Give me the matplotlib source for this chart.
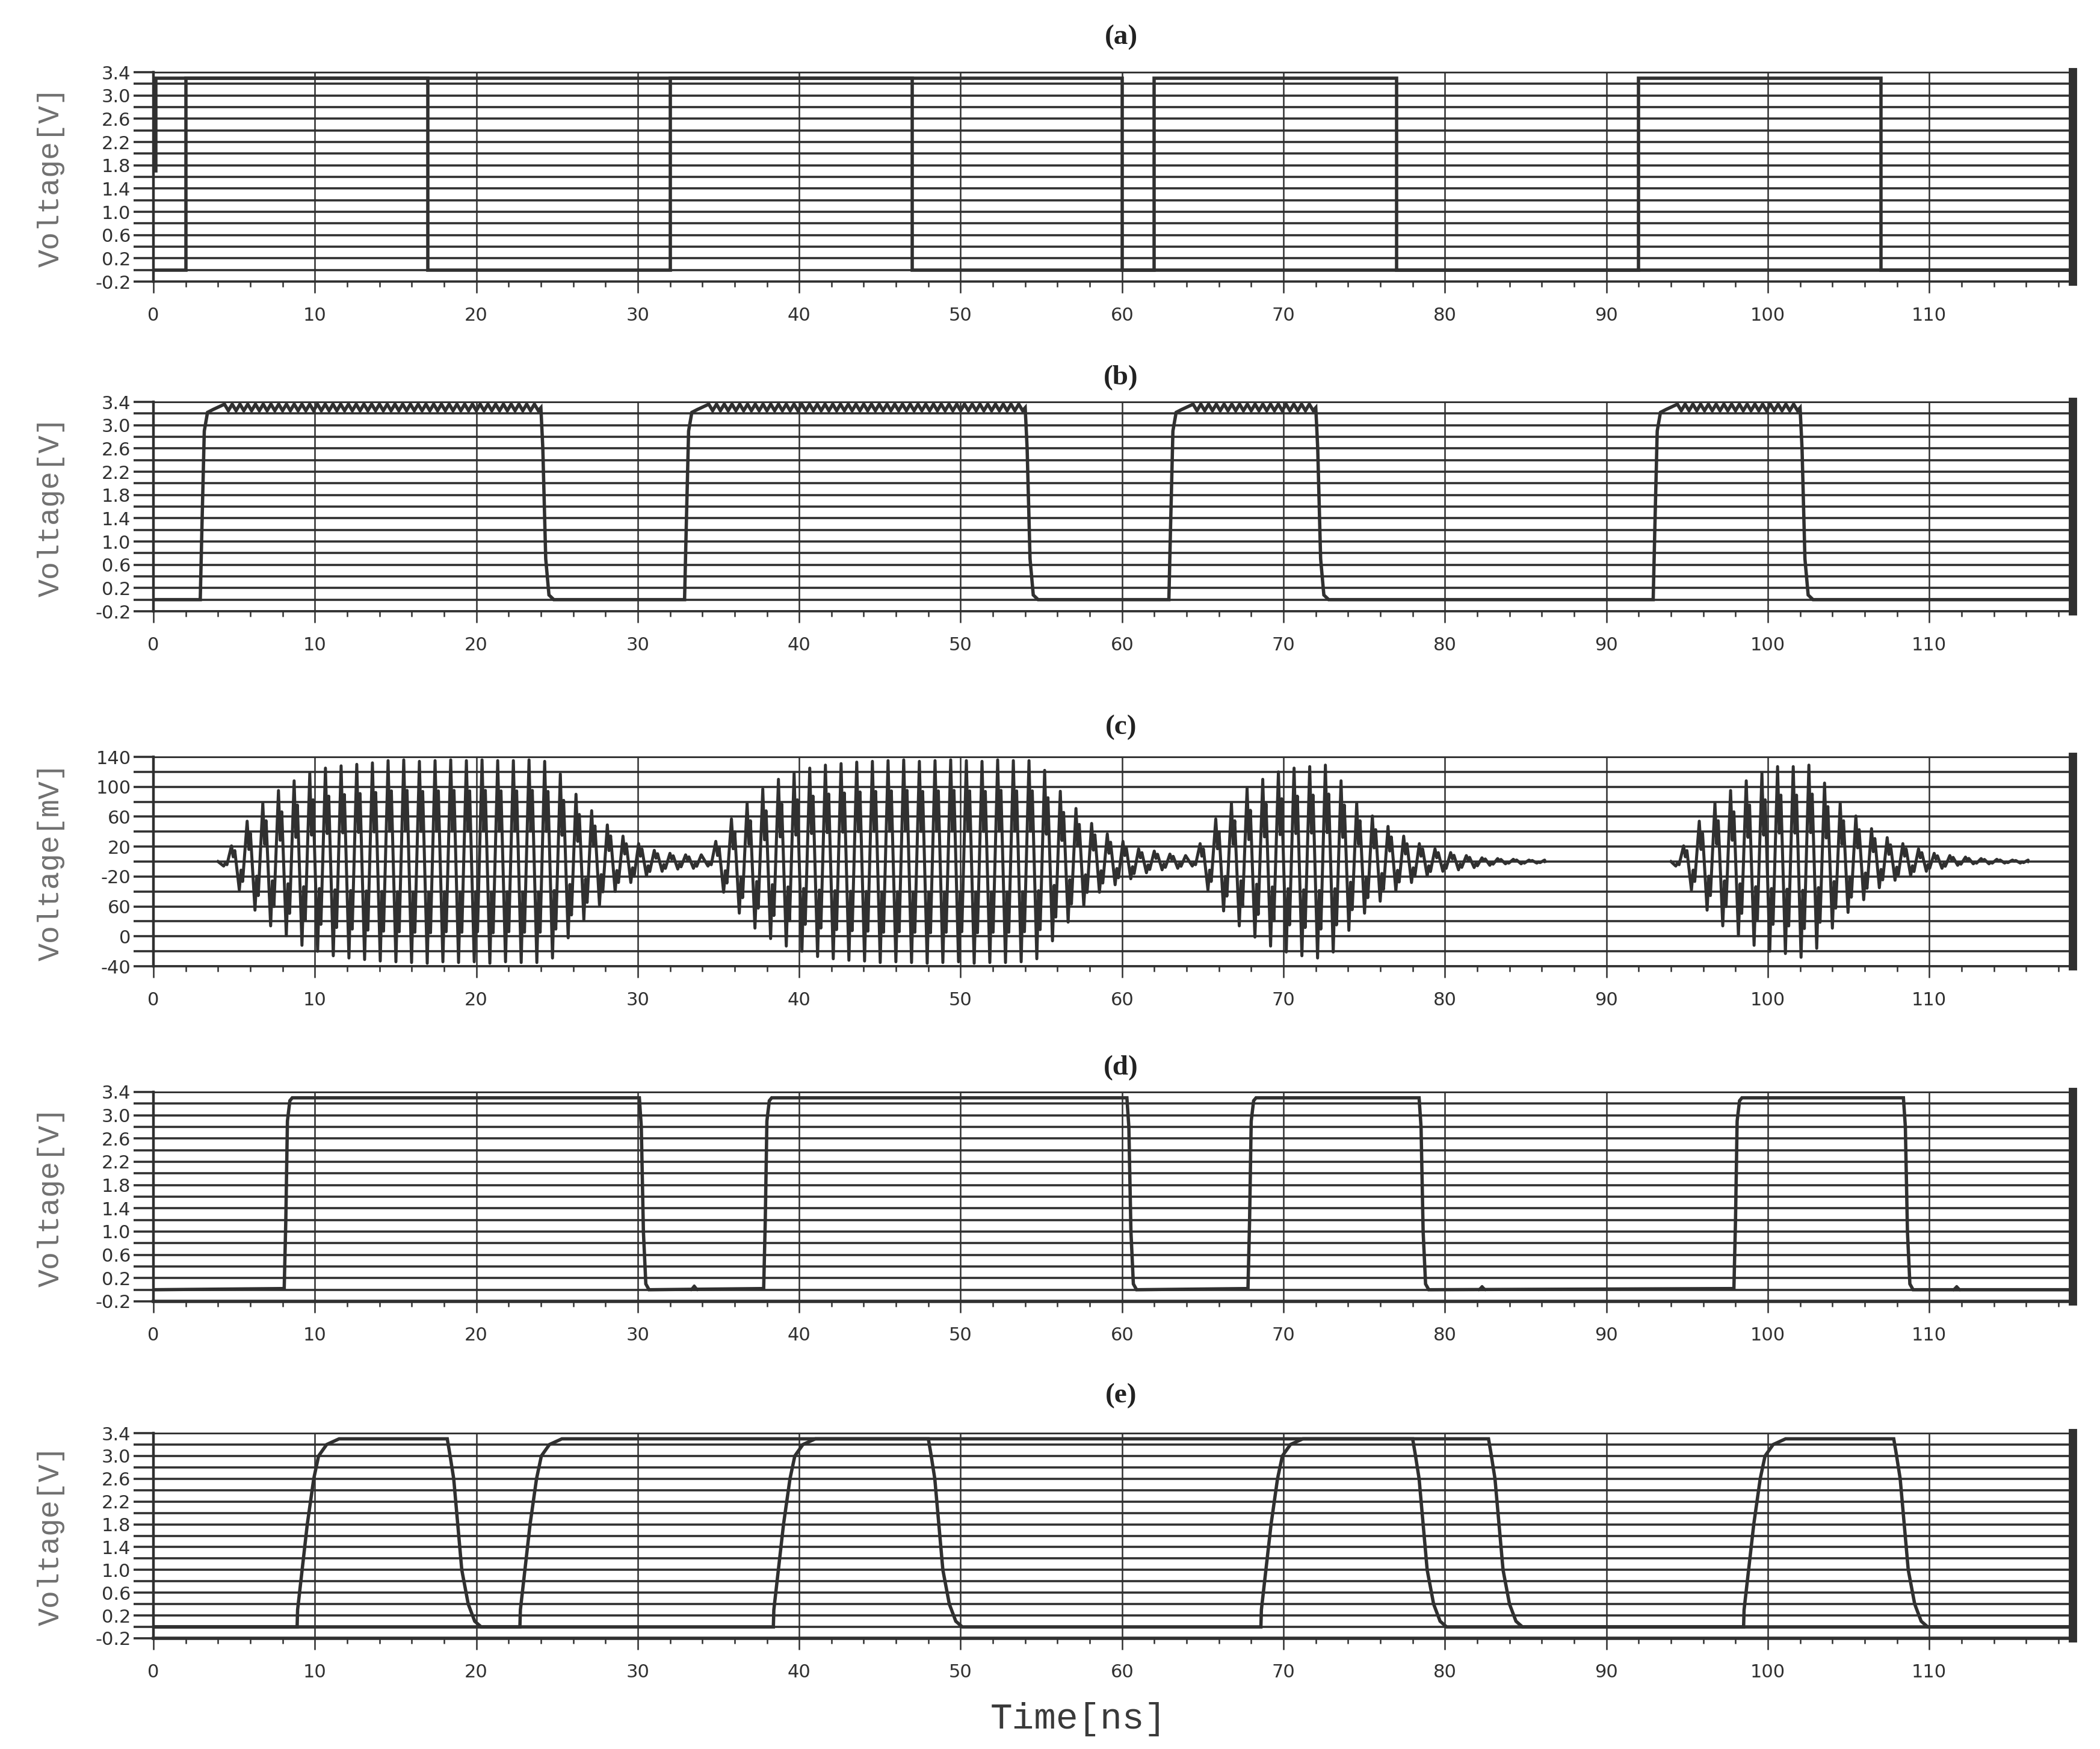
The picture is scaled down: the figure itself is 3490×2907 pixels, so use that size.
import numpy as np
import matplotlib
matplotlib.use('Agg')
import matplotlib.pyplot as plt
from matplotlib.ticker import MultipleLocator

INK = '#303030'

# ---------------- values (time in ns) ----------------
time_ticks = [0, 10, 20, 30, 40, 50, 60, 70, 80, 90, 100, 110]
t_end = 118.9

volt_major = [3.4, 3.0, 2.6, 2.2, 1.8, 1.4, 1.0, 0.6, 0.2, -0.2]
volt_minor = [3.2, 2.8, 2.4, 2.0, 1.6, 1.2, 0.8, 0.4, 0.0]
volt_labels = ['3.4', '3.0', '2.6', '2.2', '1.8', '1.4', '1.0', '0.6', '0.2', '-0.2']

mv_major = [140, 100, 60, 20, -20, -60, -100, -140]
mv_minor = [120, 80, 40, 0, -40, -80, -120]
mv_labels = ['140', '100', '60', '20', '-20', '60', '0', '-40']  # as printed

v_high = 3.3
v_low = 0.0

# (a) clock and data (ideal edges)
clk_edges = [2, 17, 32, 47, 62, 77, 92, 107]
data_v0 = 1.7
data_fall = 60

# (b) modulator enable pulses
b_rise = [2.9, 32.9, 62.9, 92.9]
b_fall = [24.0, 54.0, 72.0, 102.0]
b_rise_dt = [0.0, 0.1, 0.25, 0.45, 0.8]
b_rise_v = [0.0, 1.2, 2.9, 3.22, 3.27]
b_fall_dt = [0.0, 0.12, 0.3, 0.5, 0.8]
b_fall_v = [3.3, 2.6, 0.7, 0.08, 0.0]
b_ripple = [3.36, 3.25]
b_ripple_delay = 1.5
b_ripple_step = 0.24

# (c) OOK output: successive peak / trough values (mV), one every half period
c_half = 0.485
c_trace_a = (4.0, 86.2)
c_trace_b = (94.0, 116.1)
burst_start = [4.35, 34.35, 64.35, 94.3]
burst1 = [-6, 21, -38, 54, -65, 78, -86, 95, -99, 108, -112, 118, -120, 125, -126, 128, -129, 130, -131, 132, -133,
          135, -134, 136, -135, 134, -136, 135, -134, 136, -135, 135, -134, 136, -136, 135, -134, 135, -135, 136, -135, 134,
          -129, 117, -102, 90, -78, 68, -58, 49, -40, 34, -28, 24, -19, 15, -13, 11, -10, 9, -9, 9]
burst2 = [-6, 27, -41, 57, -69, 78, -89, 97, -103, 110, -113, 118, -120, 125, -127, 129, -130, 131, -132, 133, -133,
          134, -135, 135, -134, 136, -135, 134, -136, 135, -135, 136, -134, 135, -136, 134, -135, 136, -135, 135, -134, 135,
          -130, 122, -106, 94, -81, 71, -59, 51, -41, 37, -31, 27, -23, 17, -15, 14, -11, 10, -9, 8]
burst3 = [-6, 24, -38, 57, -66, 78, -86, 98, -101, 110, -113, 120, -121, 125, -126, 127, -129, 129,
          -121, 108, -92, 78, -69, 61, -53, 47, -39, 34, -28, 24, -19, 17, -13, 12, -11, 8, -8, 5, -5, 4,
          -3, 3, -3, 2, -2, 2]
burst4 = [-6, 21, -38, 54, -65, 78, -86, 95, -99, 108, -112, 118, -120, 127, -123, 127, -128, 129,
          -116, 105, -89, 78, -68, 61, -51, 44, -35, 32, -25, 24, -19, 17, -13, 11, -9, 8, -5, 6, -3, 4,
          -3, 3, -2, 2, -2, 2]
# harmonic kink after every extreme: (fraction of half period, fraction of that extreme)
c_kink = [(0.22, 0.3), (0.42, 0.7)]

# (d) demodulated output
d_rise = [8.1, 37.8, 67.8, 97.9]
d_fall = [30.1, 60.3, 78.4, 108.4]
d_rise_dt = [0.0, 0.1, 0.2, 0.35, 0.5]
d_rise_v = [0.02, 1.2, 2.9, 3.25, 3.3]
d_fall_dt = [0.0, 0.12, 0.25, 0.4, 0.6]
d_fall_v = [3.3, 2.8, 1.0, 0.1, 0.0]
d_glitch_t = [33.5, 82.3, 111.7]
d_glitch_v = [0.07, 0.06, 0.06]

# (e) recovered clock (e1) and data (e2)
e1_rise = [8.9, 38.4, 68.6, 98.5]
e1_fall = [18.2, 48.0, 78.0, 107.8]
e2_rise = [22.7]
e2_fall = [82.7]
e_rise_dt = [0.0, 0.03, 0.23, 0.63, 1.03, 1.33, 1.83, 2.6]
e_rise_v = [0.0, 0.3, 0.8, 1.8, 2.6, 3.0, 3.2, 3.3]
e_fall_dt = [0.0, 0.15, 0.4, 0.65, 0.9, 1.3, 1.7, 2.1]
e_fall_v = [3.3, 3.05, 2.6, 1.8, 1.0, 0.4, 0.1, 0.0]


def pulse_train(rises, falls, rdt, rv, fdt, fv, ripple=False):
    t, v = [0.0], [v_low]
    for r, f in zip(rises, falls):
        t += [r + d for d in rdt]
        v += list(rv)
        if ripple:
            ts = np.arange(r + b_ripple_delay, f - 0.1, b_ripple_step)
            t += list(ts)
            v += [b_ripple[i % 2] for i in range(len(ts))]
        t += [f + d for d in fdt]
        v += list(fv)
    t.append(t_end)
    v.append(v_low)
    return t, v


def clock_trace():
    t, v = [0.0], [v_low]
    level = v_low
    for e in clk_edges:
        nxt = v_high if level == v_low else v_low
        t += [e, e]
        v += [level, nxt]
        level = nxt
    t.append(t_end)
    v.append(level)
    return t, v


def burst_trace(span, starts, bursts):
    t, v = [span[0]], [0.0]
    for t0, ext in zip(starts, bursts):
        for k, e in enumerate(ext):
            tk = t0 + c_half * k
            t.append(tk)
            v.append(e)
            if k < len(ext) - 1:
                for ft, fv in c_kink:
                    t.append(tk + ft * c_half)
                    v.append(fv * e)
    t.append(span[1])
    v.append(0.0)
    return t, v


W, H = 3491, 2907
fig = plt.figure(figsize=(W / 100, H / 100), dpi=100)
fig.patch.set_facecolor('white')

x_left, x_right = 255, 3445
panels = [(120, 468), (668, 1016), (1258, 1606), (1815, 2163), (2382, 2723)]
title_y = [62, 628, 1209, 1775, 2320]
names = ['(a)', '(b)', '(c)', '(d)', '(e)']

tick_font = ['Liberation Sans Narrow', 'DejaVu Sans']
axes = []
for i, (top, bot) in enumerate(panels):
    ax = fig.add_axes([x_left / W, 1 - bot / H, (x_right - x_left) / W, (bot - top) / H])
    axes.append(ax)
    ax.set_xlim(0, t_end)
    ax.set_xticks(time_ticks)
    ax.set_xticklabels([str(v) for v in time_ticks], family=tick_font, fontsize=22, color=INK)
    ax.xaxis.set_minor_locator(MultipleLocator(2))
    if i == 2:
        ax.set_ylim(-140, 140)
        ax.set_yticks(mv_major)
        ax.set_yticklabels(mv_labels, family=tick_font, fontsize=22, color=INK)
        ax.set_yticks(mv_minor, minor=True)
        ylab = 'Voltage[mV]'
    else:
        ax.set_ylim(-0.2, 3.4)
        ax.set_yticks(volt_major)
        ax.set_yticklabels(volt_labels, family=tick_font, fontsize=22, color=INK)
        ax.set_yticks(volt_minor, minor=True)
        ylab = 'Voltage[V]'
    ax.grid(True, axis='y', which='both', color=INK, lw=2.6)
    ax.grid(True, axis='x', which='major', color=INK, lw=1.8)
    ax.tick_params(axis='y', which='both', length=24, width=2.6, direction='out', pad=3, colors=INK)
    ax.tick_params(axis='x', which='major', length=14, width=1.8, direction='out', pad=16, colors=INK)
    ax.tick_params(axis='x', which='minor', length=6.5, width=1.8, direction='out', colors=INK)
    for side in ['left', 'right', 'top', 'bottom']:
        ax.spines[side].set_color(INK)
    ax.spines['left'].set_linewidth(3.2)
    ax.spines['right'].set_linewidth(10.0)
    ax.spines['top'].set_linewidth(2.0)
    ax.spines['bottom'].set_linewidth(4.0 if i >= 3 else 2.6)
    ax.set_axisbelow(True)

    fig.text(85 / W, 1 - (top + bot) / 2 / H, ylab, rotation=90, ha='center', va='center',
             family=['Liberation Mono', 'DejaVu Sans Mono'], fontsize=36, color='#707070')
    fig.text(1863 / W, 1 - title_y[i] / H, names[i], ha='center', va='center',
             family=['Liberation Serif', 'DejaVu Serif'], fontweight='bold', fontsize=34, color='#222222')

wave = dict(color=INK, lw=4.0, solid_joinstyle='miter')

# (a)
ax = axes[0]
t, v = clock_trace()
ax.plot(t, v, **wave)
ax.plot([0.15, 0.15, data_fall, data_fall, t_end], [data_v0, v_high, v_high, v_low, v_low], **wave)

# (b)
t, v = pulse_train(b_rise, b_fall, b_rise_dt, b_rise_v, b_fall_dt, b_fall_v, ripple=True)
axes[1].plot(t, v, **wave)

# (c)
t, v = burst_trace(c_trace_a, burst_start[:3], [burst1, burst2, burst3])
axes[2].plot(t, v, color=INK, lw=3.6)
t, v = burst_trace(c_trace_b, burst_start[3:], [burst4])
axes[2].plot(t, v, color=INK, lw=3.6)

# (d)
t, v = pulse_train(d_rise, d_fall, d_rise_dt, d_rise_v, d_fall_dt, d_fall_v)
axes[3].plot(t, v, **wave)
for gt, gv in zip(d_glitch_t, d_glitch_v):
    axes[3].plot([gt - 0.2, gt, gt + 0.2], [0.0, gv, 0.0], color=INK, lw=3.0)

# (e)
t, v = pulse_train(e1_rise, e1_fall, e_rise_dt, e_rise_v, e_fall_dt, e_fall_v)
axes[4].plot(t, v, **wave)
t, v = pulse_train(e2_rise, e2_fall, e_rise_dt, e_rise_v, e_fall_dt, e_fall_v)
axes[4].plot(t, v, **wave)

fig.text(1792 / W, 1 - 2857 / H, 'Time[ns]', ha='center', va='center',
         family=['Liberation Mono', 'DejaVu Sans Mono'], fontsize=44, color='#3a3a3a')

fig.savefig('out.png', dpi=100, facecolor='white')
